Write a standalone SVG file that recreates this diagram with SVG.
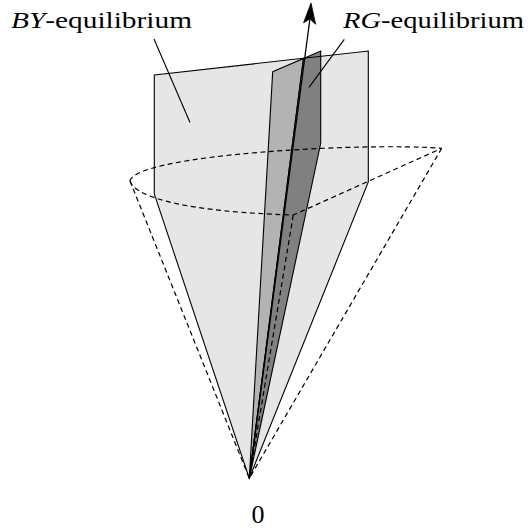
<svg xmlns="http://www.w3.org/2000/svg" width="528" height="529" viewBox="0 0 528 529">
<style>
.lbl{font-family:"Liberation Serif","Times New Roman",serif;font-size:24px;fill:#000}
.it{font-style:italic}
.edge{fill:none;stroke:#000;stroke-width:1.1;stroke-linejoin:miter}
.dash{fill:none;stroke:#000;stroke-width:1.2;stroke-dasharray:5 3.5}
.lead{fill:none;stroke:#000;stroke-width:1.1}
</style>
<rect width="528" height="529" fill="#fff"/>
<g id="by-plane">
<polygon points="154.3,75 368.3,51 368.3,182 249.3,478.3 154.3,194" fill="#e6e6e6" stroke="none"/>
</g>
<g id="rg-plane">
<polygon points="272.7,71.7 303.5,58.4 249.3,478.3" fill="#b3b3b3" stroke="#000" stroke-width="1.1" stroke-linejoin="miter"/>
<polygon points="303.5,58.4 320.7,51 320.7,143.3 249.3,478.3" fill="#808080" stroke="#000" stroke-width="1.1" stroke-linejoin="miter"/>
</g>
<g id="by-outline">
<polygon class="edge" points="154.3,75 368.3,51 368.3,182 249.3,478.3 154.3,194"/>
</g>
<g id="connectors">
<path id="cone-base" class="dash" d="M130,181 C135,198 190,212 293.3,215 L441.7,148.3 C360,142 135,155 130,181"/>
<path class="dash" d="M130,181 L249.3,478.3"/>
<path class="dash" d="M441.7,148.3 L249.3,478.3"/>
<path class="dash" d="M293.3,215 L249.3,478.3"/>
<path id="axis" d="M249.3,478.3 L309.9,19" fill="none" stroke="#000" stroke-width="1.3"/>
<path id="axis-head" d="M311,3 L315.6,24.2 L309.9,19 L303.6,22.7 Z" fill="#000" stroke="#000" stroke-width="0.8" stroke-linejoin="round"/>
<path class="lead" d="M154,39 L190,122.5"/>
<path class="lead" d="M344.3,39.3 L309,87.3"/>
</g>
<g id="label-by">
<text class="lbl" x="11" y="27.5" textLength="181" lengthAdjust="spacingAndGlyphs"><tspan class="it">BY</tspan>-equilibrium</text>
</g>
<g id="label-rg">
<text class="lbl" x="343" y="27.5" textLength="181" lengthAdjust="spacingAndGlyphs"><tspan class="it">RG</tspan>-equilibrium</text>
</g>
<g id="label-origin">
<text class="lbl" x="258" y="523" text-anchor="middle" style="font-size:26px">0</text>
</g>
</svg>
